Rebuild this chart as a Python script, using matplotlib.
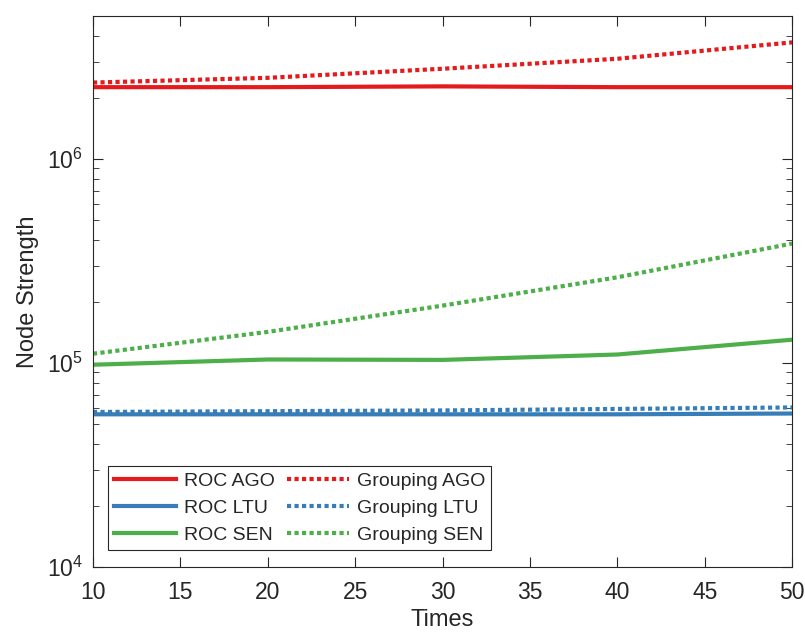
import numpy as np
import matplotlib
matplotlib.use("Agg")
from matplotlib import pyplot as plt
from matplotlib.ticker import LogLocator, NullFormatter

# data
times = [10, 20, 30, 40, 50]
roc_ago = [2.25e6, 2.25e6, 2.27e6, 2.25e6, 2.25e6]
grp_ago = [2.37e6, 2.50e6, 2.77e6, 3.10e6, 3.73e6]
roc_ltu = [5.6e4, 5.6e4, 5.6e4, 5.6e4, 5.65e4]
grp_ltu = [5.75e4, 5.8e4, 5.85e4, 5.95e4, 6.05e4]
roc_sen = [0.98e5, 1.04e5, 1.035e5, 1.10e5, 1.30e5]
grp_sen = [1.11e5, 1.42e5, 1.91e5, 2.63e5, 3.85e5]

red = (228/255, 26/255, 28/255)
blue = (55/255, 126/255, 184/255)
green = (77/255, 175/255, 74/255)

plt.rcParams['font.family'] = ['Liberation Sans', 'DejaVu Sans']

fig = plt.figure(figsize=(8.05, 6.32), dpi=100)
ax = fig.add_axes([0.1155, 0.103, 0.8685, 0.871])

lw = 3.0
ax.plot(times, roc_ago, color=red, lw=lw, label='ROC AGO')
ax.plot(times, roc_ltu, color=blue, lw=lw, label='ROC LTU')
ax.plot(times, roc_sen, color=green, lw=lw, label='ROC SEN')
ax.plot(times, grp_ago, color=red, lw=lw, ls=(0, (1, 0.8)), label='Grouping AGO')
ax.plot(times, grp_ltu, color=blue, lw=lw, ls=(0, (1, 0.8)), label='Grouping LTU')
ax.plot(times, grp_sen, color=green, lw=lw, ls=(0, (1, 0.8)), label='Grouping SEN')

ax.set_yscale('log')
ax.set_xlim(10, 50)
ax.set_ylim(1e4, 5e6)
ax.set_xticks(np.arange(10, 51, 5))
ax.yaxis.set_major_locator(LogLocator(base=10, numticks=10))
ax.yaxis.set_minor_locator(LogLocator(base=10, subs=np.arange(2, 10), numticks=20))
ax.yaxis.set_minor_formatter(NullFormatter())

edge = '#262626'
for s in ax.spines.values():
    s.set_color(edge)
    s.set_linewidth(0.8)
ax.tick_params(which='both', direction='in', top=True, right=True, colors=edge,
               labelcolor='#262626', labelsize=16.5)
ax.tick_params(which='major', length=7)
ax.tick_params(which='minor', length=4)
ax.tick_params(axis='x', which='major', pad=10)
ax.tick_params(axis='y', which='major', pad=7)

ax.set_xlabel('Times', fontsize=17, color='#262626', labelpad=4)
ax.set_ylabel('Node Strength', fontsize=17, color='#262626', labelpad=6)

leg = ax.legend(ncol=2, loc='lower left', bbox_to_anchor=(0.0215, 0.03),
                borderaxespad=0, fontsize=14, handlelength=3.2,
                columnspacing=0.6, handletextpad=0.4, labelspacing=0.5,
                borderpad=0.32, fancybox=False, framealpha=1)
leg.get_frame().set_edgecolor(edge)
leg.get_frame().set_linewidth(0.8)
for t in leg.get_texts():
    t.set_color('#262626')

fig.savefig('out.png', dpi=100)
